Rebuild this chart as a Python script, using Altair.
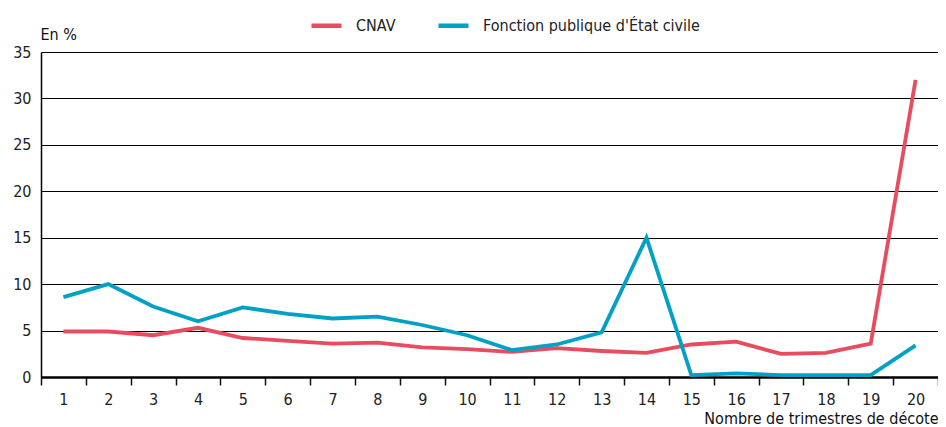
import altair as alt
import pandas as pd

trimestres = list(range(1, 21))
cnav = [4.9, 4.9, 4.5, 5.3, 4.2, 3.9, 3.6, 3.7, 3.2, 3.0, 2.7, 3.1, 2.8, 2.6, 3.5, 3.8, 2.5, 2.6, 3.6, 32.0]
fpe = [8.6, 10.0, 7.6, 6.0, 7.5, 6.8, 6.3, 6.5, 5.6, 4.5, 2.9, 3.5, 4.8, 15.0, 0.2, 0.4, 0.2, 0.2, 0.2, 3.4]
series = ["CNAV", "Fonction publique d'État civile"]
colors = ["#e84c5f", "#00a1c4"]

rows = []
for name, vals in zip(series, [cnav, fpe]):
    for t, v in zip(trimestres, vals):
        rows.append({"t": t, "v": v, "s": name})
df = pd.DataFrame(rows)

FONT = "DejaVu Sans Condensed, Liberation Sans Narrow, sans-serif"

chart = alt.Chart(df).mark_line(strokeWidth=3.8, strokeJoin="miter").encode(
    x=alt.X("t:O", bandPosition=0.5,
            scale=alt.Scale(type="band", paddingInner=0, paddingOuter=0),
            axis=alt.Axis(title="Nombre de trimestres de décote", labelAngle=0,
                          tickBand="extent", tickSize=8, tickColor="#111", tickWidth=1.5,
                          domainColor="#000", domainWidth=2.5, labelPadding=6,
                          labelFontSize=16, labelColor="#222", labelFont=FONT,
                          titleFont=FONT, titleFontSize=16, titleFontWeight="normal",
                          titleAnchor="end", titleAlign="right", titlePadding=3,
                          titleColor="#111", grid=False)),
    y=alt.Y("v:Q", scale=alt.Scale(domain=[0, 35], nice=False),
            axis=alt.Axis(title="En %", values=[0, 5, 10, 15, 20, 25, 30, 35],
                          ticks=False, labelPadding=10, labelFontSize=16,
                          labelColor="#222", labelFont=FONT, domainColor="#000",
                          domainWidth=1.5, gridColor="#000", gridWidth=1,
                          titleFont=FONT, titleFontSize=16, titleFontWeight=500,
                          titleAngle=0, titleAlign="left", titleBaseline="bottom",
                          titleX=-1, titleY=-10, titleColor="#111")),
    color=alt.Color("s:N", scale=alt.Scale(domain=series, range=colors),
                    legend=alt.Legend(title=None, orient="none", legendX=268, legendY=-44,
                                      direction="horizontal", columns=2, columnPadding=33,
                                      symbolType="stroke", symbolSize=900, labelLimit=400,
                                      symbolStrokeWidth=4.5, labelFont=FONT,
                                      labelFontSize=16, labelColor="#222", labelOffset=12)),
).properties(
    width=897, height=325,
    autosize=alt.AutoSizeParams(type="none"),
    padding={"left": 33, "top": 44, "right": 0, "bottom": 50},
).configure_view(stroke=None).configure_axisY(
    gridOpacity=1
)

chart.save("out.html", embed_options={"renderer": "svg", "actions": False})
